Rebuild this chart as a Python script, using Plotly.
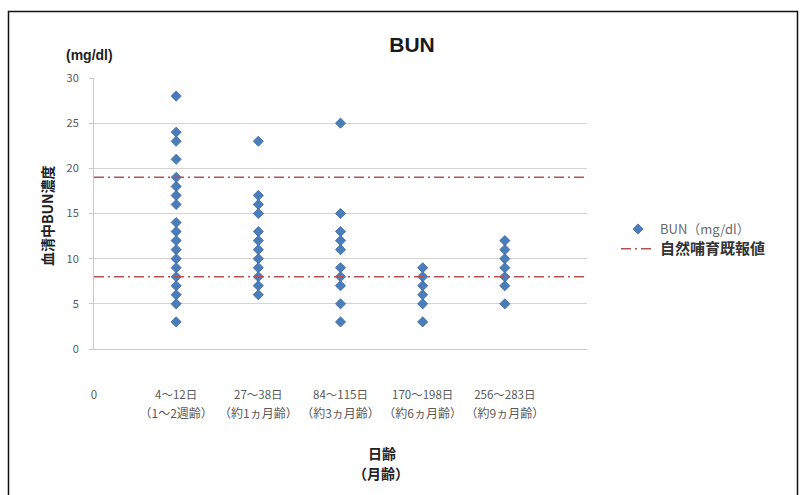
import plotly.graph_objects as go

# Age-group categories (day range / approx. age)
categories = ["4～12日", "27～38日", "84～115日", "170～198日", "256～283日"]
sub_labels = ["（1～2週齢）", "（約1ヵ月齢）", "（約3ヵ月齢）", "（約6ヵ月齢）", "（約9ヵ月齢）"]

# Serum BUN values (mg/dl) for each age group
bun_g1 = [28, 24, 23, 21, 19, 18, 17, 16, 14, 13, 12, 11, 10, 9, 8, 7, 6, 5, 3]
bun_g2 = [23, 17, 16, 15, 13, 12, 11, 10, 9, 8, 7, 6]
bun_g3 = [25, 15, 13, 12, 11, 9, 8, 7, 5, 3]
bun_g4 = [9, 8, 7, 6, 5, 3]
bun_g5 = [12, 11, 10, 9, 8, 7, 5]
groups = [bun_g1, bun_g2, bun_g3, bun_g4, bun_g5]

# Previously reported range for naturally reared animals
ref_upper = 19
ref_lower = 8
ref_x_span = [0, 6]

y_ticks = [0, 5, 10, 15, 20, 25, 30]

xs, ys = [], []
for i, g in enumerate(groups):
    xs += [i + 1] * len(g)
    ys += g

# plot-area pixel geometry used for paper-coordinate conversions
L, R, T, B = 94, 587, 78, 349
W, H = 806, 495
def px(x):
    return (x - L) / (R - L)
def py(y):
    return (B - y) / (B - T)

CJK = "Noto Sans CJK JP, Liberation Sans, sans-serif"

fig = go.Figure()

fig.add_trace(go.Scatter(
    x=xs, y=ys, mode="markers",
    name='<span style="color:#6b6b6b">BUN（mg/dl）</span>',
    marker=dict(symbol="diamond", size=7.8, color="#4a7ebb",
                line=dict(color="#3a66a0", width=0.8)),
))

fig.add_trace(go.Scatter(
    x=[ref_x_span[0], ref_x_span[1], None, ref_x_span[0], ref_x_span[1]],
    y=[ref_upper, ref_upper, None, ref_lower, ref_lower],
    mode="lines",
    name='<b><span style="font-size:15px">自然哺育既報値</span></b>',
    line=dict(color="#b5524f", width=1.5, dash="10px,4px,2px,4px"),
))

# placeholder trace so the secondary (age-in-months) axis is drawn
fig.add_trace(go.Scatter(x=[], y=[], xaxis="x2", showlegend=False, hoverinfo="skip"))

tickvals = [0] + [i + 1 for i in range(len(categories))]
ticktext = ["0"] + categories
sub_tickvals = [i + 1 for i in range(len(sub_labels))]

fig.update_layout(
    width=W, height=H,
    margin=dict(l=L, r=W - R, t=T, b=H - B),
    paper_bgcolor="white", plot_bgcolor="white",
    font=dict(family=CJK, size=11, color="#595959"),
    title=dict(text="<b>BUN</b>", xref="container", yref="container",
               x=412 / W, y=1 - 45 / H, xanchor="center", yanchor="middle",
               font=dict(family="Liberation Sans, Arial, sans-serif", size=21, color="#1a1a1a")),
    showlegend=True,
    legend=dict(x=px(616), y=py(214), xanchor="left", yanchor="top",
                bgcolor="rgba(0,0,0,0)", font=dict(size=13, color="#333333"),
                itemwidth=34, tracegroupgap=0),
    xaxis=dict(range=[0, 6], tickvals=tickvals, ticktext=ticktext, tickangle=0,
               showgrid=False, zeroline=False, showline=True, linecolor="#c8c8c8",
               ticks="", ticklabelstandoff=35,
               tickfont=dict(size=11.5, color="#595959")),
    xaxis2=dict(range=[0, 6], tickvals=sub_tickvals, ticktext=sub_labels, tickangle=0,
                overlaying="x", side="bottom", anchor="y",
                showgrid=False, zeroline=False, showline=False,
                ticks="", ticklabelstandoff=56,
                tickfont=dict(size=12, color="#595959")),
    yaxis=dict(range=[0, 30], tickvals=y_ticks, showgrid=True, gridcolor="#d4d4d4",
               gridwidth=1, zeroline=False, showline=True, linecolor="#c8c8c8",
               ticks="outside", ticklen=4, tickcolor="#c8c8c8",
               ticklabelstandoff=8, tickfont=dict(size=11, color="#595959")),
)

# axis captions
cap = dict(xref="paper", yref="paper", showarrow=False, xanchor="center", yanchor="middle")
fig.add_annotation(text="<b>(mg/dl)</b>", x=px(89), y=py(55),
                   font=dict(family="Liberation Sans, Arial, sans-serif", size=14, color="#222222"), **cap)
fig.add_annotation(text="<b>血清中BUN濃度</b>", x=px(47), y=py(216), textangle=-90,
                   font=dict(family=CJK, size=14, color="#222222"), **cap)
fig.add_annotation(text="<b>日齢</b>", x=px(382), y=py(453),
                   font=dict(family=CJK, size=14, color="#222222"), **cap)
fig.add_annotation(text="<b>（月齢）</b>", x=px(381), y=py(473),
                   font=dict(family=CJK, size=14, color="#222222"), **cap)

# outer chart border
fig.add_shape(type="rect", xref="paper", yref="paper",
              x0=px(8.5), x1=px(797.5), y0=py(510), y1=py(11.5),
              line=dict(color="#111111", width=1.5), fillcolor="rgba(0,0,0,0)")

fig.write_html("out.html")
